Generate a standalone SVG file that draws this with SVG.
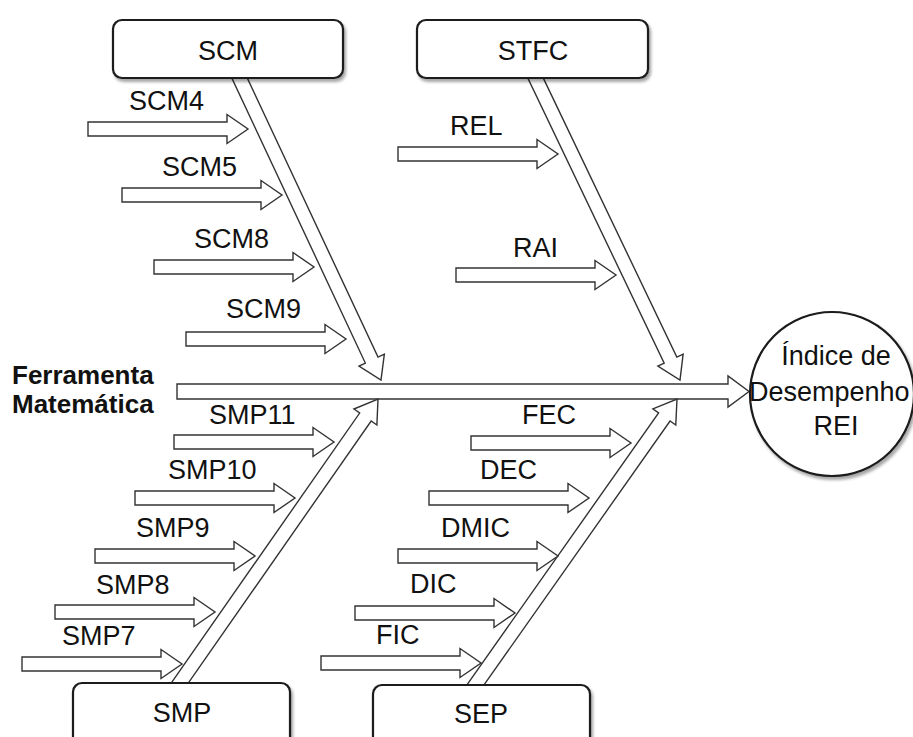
<svg xmlns="http://www.w3.org/2000/svg" xmlns:xlink="http://www.w3.org/1999/xlink" width="913" height="737" viewBox="0 0 913 737">
  <style>
    .lbl { font-family: "Liberation Sans", Arial, sans-serif; font-size: 27px; fill: #111; }
    .ttl { font-family: "Liberation Sans", Arial, sans-serif; font-size: 26px; font-weight: bold; fill: #111; }
    .box { fill: #fff; stroke: #1a1a1a; stroke-width: 2.2; }
    .arr { fill: #fff; stroke: #333; stroke-width: 1.4; stroke-linejoin: miter; }
  </style>
  <defs>
    <!-- small horizontal cause arrow, 160 long, tip at x=160 -->
    <path id="cause" d="M0,-7 H139 V-14.5 L160,0 L139,14.5 V7 H0 Z"/>
    <filter id="shadow" x="-10%" y="-10%" width="130%" height="140%">
      <feDropShadow dx="2" dy="3" stdDeviation="1.5" flood-color="#000" flood-opacity="0.35"/>
    </filter>
  </defs>
  <rect width="913" height="737" fill="#fff"/>

  <!-- connectors: spine, category bones and cause arrows -->
  <g id="connectors">
    <!-- main spine -->
    <path class="arr" d="M177,384 H728 V376 L749,391.5 L728,407 V399 H177 Z"/>
    <!-- category bones (tip at origin, pointing along +x) -->
    <g transform="translate(381,380) rotate(64.9)">
      <path class="arr" d="M-340,-7 H-22 V-14 L0,0 L-22,14 V7 H-340 Z"/>
    </g>
    <g transform="translate(680,380) rotate(64.43)">
      <path class="arr" d="M-341,-7 H-22 V-14 L0,0 L-22,14 V7 H-341 Z"/>
    </g>
    <g transform="translate(378,399) rotate(-55.09)">
      <path class="arr" d="M-355,-7 H-22 V-14 L0,0 L-22,14 V7 H-355 Z"/>
    </g>
    <g transform="translate(677,399) rotate(-54.82)">
      <path class="arr" d="M-358,-7 H-22 V-14 L0,0 L-22,14 V7 H-358 Z"/>
    </g>
    <!-- cause arrows -->
    <use href="#cause" class="arr" x="88" y="129"/>
    <use href="#cause" class="arr" x="122" y="195"/>
    <use href="#cause" class="arr" x="154" y="267"/>
    <use href="#cause" class="arr" x="186" y="339"/>
    <use href="#cause" class="arr" x="398" y="154"/>
    <use href="#cause" class="arr" x="456" y="275"/>
    <use href="#cause" class="arr" x="174" y="442"/>
    <use href="#cause" class="arr" x="135" y="498"/>
    <use href="#cause" class="arr" x="95" y="556"/>
    <use href="#cause" class="arr" x="55" y="612"/>
    <use href="#cause" class="arr" x="22" y="664"/>
    <use href="#cause" class="arr" x="471" y="443"/>
    <use href="#cause" class="arr" x="429" y="498"/>
    <use href="#cause" class="arr" x="398" y="556"/>
    <use href="#cause" class="arr" x="355" y="613"/>
    <use href="#cause" class="arr" x="321" y="663"/>
  </g>

  <!-- cause labels -->
  <g id="labels">
    <text class="lbl" x="129" y="110">SCM4</text>
    <text class="lbl" x="162" y="176">SCM5</text>
    <text class="lbl" x="194" y="248">SCM8</text>
    <text class="lbl" x="226" y="318">SCM9</text>
    <text class="lbl" x="450" y="135">REL</text>
    <text class="lbl" x="513" y="257">RAI</text>
    <text class="lbl" x="209" y="424">SMP11</text>
    <text class="lbl" x="168" y="479">SMP10</text>
    <text class="lbl" x="136" y="537">SMP9</text>
    <text class="lbl" x="96" y="594">SMP8</text>
    <text class="lbl" x="62" y="645">SMP7</text>
    <text class="lbl" x="522" y="424">FEC</text>
    <text class="lbl" x="480" y="479">DEC</text>
    <text class="lbl" x="441" y="537">DMIC</text>
    <text class="lbl" x="410" y="593">DIC</text>
    <text class="lbl" x="376" y="644">FIC</text>
  </g>

  <g id="tool">
    <text class="ttl" x="12" y="384">Ferramenta</text>
    <text class="ttl" x="12" y="413">Matemática</text>
  </g>

  <g id="scm">
    <rect class="box" x="113" y="20" width="230" height="58" rx="9" filter="url(#shadow)"/>
    <text class="lbl" x="228" y="60" text-anchor="middle">SCM</text>
  </g>
  <g id="stfc">
    <rect class="box" x="417" y="20" width="231" height="58" rx="9" filter="url(#shadow)"/>
    <text class="lbl" x="533" y="60" text-anchor="middle">STFC</text>
  </g>
  <g id="smp">
    <rect class="box" x="73" y="683" width="217" height="70" rx="9" filter="url(#shadow)"/>
    <text class="lbl" x="182" y="722" text-anchor="middle">SMP</text>
  </g>
  <g id="sep">
    <rect class="box" x="373" y="685" width="217" height="70" rx="9" filter="url(#shadow)"/>
    <text class="lbl" x="481" y="723" text-anchor="middle">SEP</text>
  </g>

  <g id="indice">
    <circle class="box" cx="832" cy="394" r="82" filter="url(#shadow)"/>
    <text class="lbl" x="836" y="365" text-anchor="middle">Índice de</text>
    <text class="lbl" x="749" y="401">Desempenho</text>
    <text class="lbl" x="836" y="435" text-anchor="middle">REI</text>
  </g>
</svg>
